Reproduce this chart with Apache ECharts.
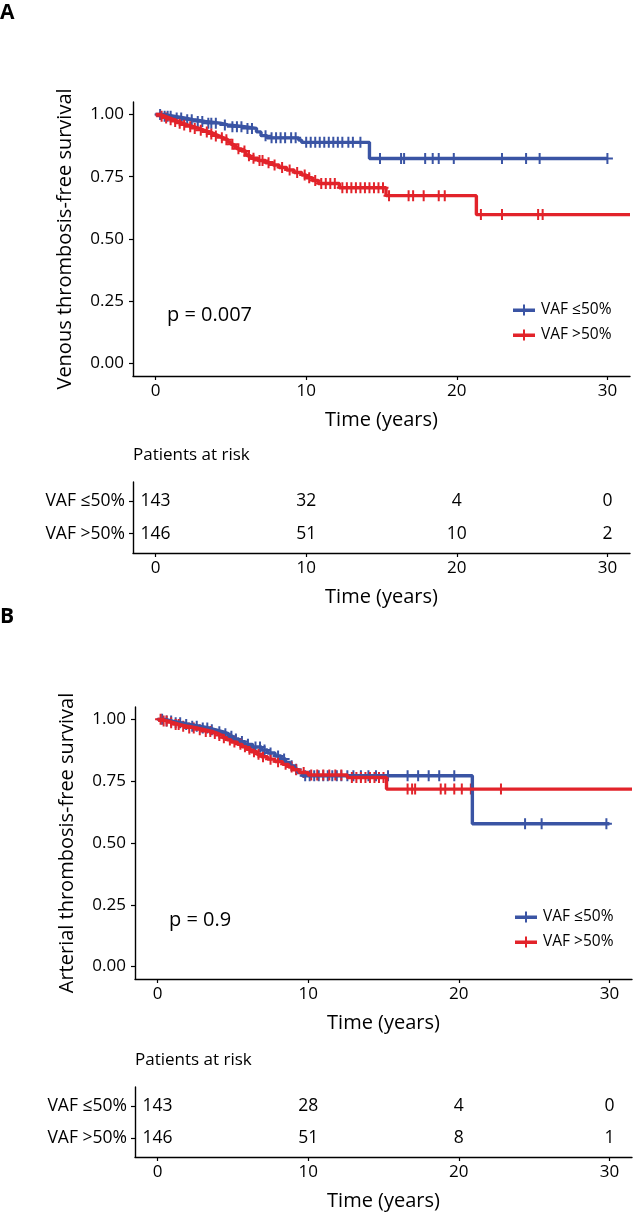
<!DOCTYPE html>
<html>
<head>
<meta charset="utf-8">
<script src="https://cdn.jsdelivr.net/npm/echarts@6/dist/echarts.min.js"></script>
<style>
html,body{margin:0;padding:0;background:#fff;}
#chart{width:633px;height:1212px;}
</style>
</head>
<body>
<div id="chart"></div>
<script>
// ---------- DATA ----------
const groups = ['VAF ≤50%', 'VAF >50%'];
const xTicks = [0, 10, 20, 30];
const yTicks = [0, 0.25, 0.5, 0.75, 1];

// Panel A: venous thrombosis (step points: time, survival)
const aBlueT = [0, 0.5, 1.2, 1.9, 2.5, 3.3, 4.3, 4.8, 5.9, 6.7, 7.0, 7.4, 9.5, 9.7, 14.2, 30.0];
const aBlueS = [1.0, 0.993, 0.986, 0.979, 0.972, 0.965, 0.958, 0.951, 0.944, 0.930, 0.915, 0.906, 0.897, 0.888, 0.823, 0.823];
const aRedT = [0, 0.3, 0.6, 0.9, 1.2, 1.5, 1.8, 2.1, 2.5, 2.9, 3.2, 3.6, 3.9, 4.2, 4.5, 4.8, 5.0, 5.2, 5.4, 5.7, 6.0, 6.1, 6.3, 6.8, 7.3, 7.8, 8.2, 8.7, 9.2, 9.7, 10.0, 10.4, 10.8, 12.2, 15.3, 21.3, 31.5];
const aRedS = [1.0, 0.993, 0.986, 0.979, 0.972, 0.965, 0.958, 0.951, 0.944, 0.937, 0.930, 0.922, 0.914, 0.906, 0.898, 0.889, 0.880, 0.871, 0.862, 0.853, 0.844, 0.834, 0.824, 0.815, 0.806, 0.797, 0.787, 0.777, 0.767, 0.757, 0.746, 0.735, 0.723, 0.706, 0.674, 0.598, 0.598];
const aBlueCens = [0.3, 0.6, 0.8, 1.0, 1.4, 1.7, 2.1, 2.4, 2.8, 3.1, 3.5, 3.7, 4.0, 4.6, 5.1, 5.4, 5.7, 6.1, 6.4, 7.3, 7.7, 8.0, 8.3, 8.6, 9.0, 9.3, 10.0, 10.3, 10.6, 10.9, 11.2, 11.5, 11.8, 12.1, 12.4, 12.8, 13.1, 13.6, 14.9, 16.3, 16.5, 17.9, 18.4, 18.8, 19.8, 23.0, 24.6, 25.5, 30.0];
const aRedCens = [0.4, 0.7, 1.0, 1.3, 1.6, 1.9, 2.3, 2.6, 3.0, 3.4, 3.7, 4.0, 4.4, 4.7, 5.1, 5.5, 5.9, 6.2, 6.5, 6.9, 7.1, 7.5, 7.9, 8.4, 8.9, 9.4, 9.9, 10.2, 10.6, 11.0, 11.3, 11.6, 11.9, 12.4, 12.7, 13.0, 13.3, 13.6, 13.9, 14.2, 14.5, 14.8, 15.1, 15.5, 16.8, 17.1, 17.8, 18.8, 19.2, 21.6, 23.0, 25.4, 25.7];
const aRiskBlue = [143, 32, 4, 0];
const aRiskRed = [146, 51, 10, 2];

// Panel B: arterial thrombosis
const bBlueT = [0, 0.5, 1.0, 1.6, 2.2, 2.8, 3.4, 3.8, 4.3, 4.7, 5.0, 5.4, 5.8, 6.3, 6.9, 7.3, 7.8, 8.2, 8.5, 8.8, 9.1, 9.3, 9.6, 20.9, 30.0];
const bBlueS = [1.0, 0.993, 0.986, 0.979, 0.972, 0.965, 0.958, 0.950, 0.942, 0.932, 0.921, 0.910, 0.899, 0.888, 0.876, 0.864, 0.852, 0.840, 0.826, 0.812, 0.798, 0.785, 0.772, 0.578, 0.578];
const bRedT = [0, 0.3, 0.7, 1.1, 1.5, 2.0, 2.6, 3.1, 3.6, 4.0, 4.3, 4.6, 4.9, 5.3, 5.6, 5.9, 6.2, 6.6, 6.9, 7.3, 7.8, 8.3, 8.7, 9.0, 9.4, 10.0, 12.6, 15.2, 31.5];
const bRedS = [1.0, 0.993, 0.986, 0.979, 0.972, 0.965, 0.958, 0.951, 0.943, 0.935, 0.926, 0.917, 0.908, 0.899, 0.889, 0.879, 0.869, 0.859, 0.849, 0.839, 0.829, 0.818, 0.807, 0.796, 0.785, 0.775, 0.765, 0.718, 0.718];
const bBlueCens = [0.3, 0.6, 0.9, 1.2, 1.5, 1.9, 2.3, 2.6, 3.0, 3.3, 3.6, 4.1, 4.5, 4.9, 5.2, 5.6, 6.0, 6.5, 6.8, 7.1, 7.5, 8.0, 8.4, 8.9, 9.2, 9.8, 10.1, 10.4, 10.7, 11.0, 11.3, 11.6, 11.9, 12.2, 12.6, 13.0, 13.5, 14.0, 14.5, 15.3, 16.6, 17.3, 18.0, 18.7, 19.7, 24.4, 25.5, 29.8];
const bRedCens = [0.2, 0.4, 0.6, 0.9, 1.2, 1.4, 1.7, 2.1, 2.4, 2.8, 3.2, 3.5, 3.8, 4.1, 4.4, 4.8, 5.1, 5.5, 5.8, 6.1, 6.4, 6.7, 7.0, 7.5, 8.0, 8.5, 8.9, 9.2, 9.7, 10.2, 10.6, 11.0, 11.4, 11.8, 12.2, 12.9, 13.2, 13.5, 13.8, 14.1, 14.4, 14.7, 15.0, 16.6, 16.9, 17.1, 18.8, 19.1, 19.7, 20.2, 20.8, 22.8];
const bRiskBlue = [143, 28, 4, 0];
const bRiskRed = [146, 51, 8, 1];

// ---------- STYLE ----------
const BLUE = '#3a54a4';
const RED = '#e2232a';
const FONT = 'Open Sans';
const CROSS = 'path://M4.5,0H6.5V4.5H11V6.5H6.5V11H4.5V6.5H0V4.5H4.5Z';
const KEY = 'path://M0,4H22V7.5H0Z M10,0H12V11H10Z';

function pairs(T, S) { return T.map((t, i) => [t, S[i]]); }
function survAt(T, S, t) { let v = S[0]; for (let i = 0; i < T.length; i++) { if (T[i] <= t) v = S[i]; } return v; }
function cens(C, T, S) { return C.map(t => [t, survAt(T, S, t)]); }

const grids = [
  { left: 133, top: 102, width: 497, height: 274 },
  { left: 133, top: 482, width: 497, height: 71 },
  { left: 135, top: 707, width: 497, height: 272 },
  { left: 135, top: 1087, width: 497, height: 70 }
];

const axisLineStyle = { onZero: false, lineStyle: { color: '#000', width: 1.4 } };
function xAxis(gi) {
  return {
    type: 'value', gridIndex: gi, min: -1.5, max: 31.5,
    axisLine: { show: true, ...axisLineStyle },
    axisTick: { show: true, length: 4, lineStyle: { color: '#000', width: 1.2 }, customValues: xTicks },
    axisLabel: { color: '#000', fontFamily: FONT, fontSize: 17, margin: 7, customValues: xTicks },
    splitLine: { show: false },
    name: 'Time (years)', nameLocation: 'middle', nameGap: 34,
    nameTextStyle: { color: '#000', fontFamily: FONT, fontSize: 20 }
  };
}
function yAxisPlot(gi, title) {
  return {
    type: 'value', gridIndex: gi, min: -0.05, max: 1.05,
    axisLine: { show: true, ...axisLineStyle },
    axisTick: { show: true, length: 4, lineStyle: { color: '#000', width: 1.2 }, customValues: yTicks },
    axisLabel: { color: '#000', fontFamily: FONT, fontSize: 17, margin: 9, customValues: yTicks, formatter: v => v.toFixed(2) },
    splitLine: { show: false },
    name: title, nameLocation: 'middle', nameGap: 58,
    nameTextStyle: { color: '#000', fontFamily: FONT, fontSize: 20 }
  };
}
function yAxisTable(gi) {
  return {
    type: 'value', gridIndex: gi, min: 0.4, max: 2.6,
    axisLine: { show: true, ...axisLineStyle },
    axisTick: { show: true, length: 4, lineStyle: { color: '#000', width: 1.2 }, customValues: [1, 2] },
    axisLabel: { color: '#000', fontFamily: FONT, fontSize: 17.5, margin: 8, customValues: [1, 2], formatter: v => (v === 2 ? groups[0] : groups[1]) },
    splitLine: { show: false }
  };
}

function lineSeries(name, data, color, gi) {
  return { name, type: 'line', xAxisIndex: gi, yAxisIndex: gi, data, step: 'end', showSymbol: false, symbol: 'none',
    lineStyle: { color, width: 3.4 }, itemStyle: { color }, animation: false, silent: true };
}
function censSeries(name, data, color, gi) {
  return { name, type: 'scatter', xAxisIndex: gi, yAxisIndex: gi, data, symbol: CROSS, symbolSize: [11, 11],
    itemStyle: { color, opacity: 1 }, animation: false, silent: true };
}
function tableSeries(gi, vals, row) {
  return { type: 'scatter', xAxisIndex: gi, yAxisIndex: gi, symbolSize: 0,
    data: xTicks.map((t, i) => [t, row, vals[i]]),
    itemStyle: { opacity: 1 },
    label: { show: true, position: 'inside', formatter: p => String(p.data[2]), color: '#000', textBorderWidth: 0, fontFamily: FONT, fontSize: 17.5 },
    animation: false, silent: true };
}

function legend(left, top) {
  return {
    orient: 'vertical', left, top, itemWidth: 22, itemHeight: 11, itemGap: 9, selectedMode: false,
    data: [{ name: groups[0], icon: KEY, itemStyle: { color: BLUE } }, { name: groups[1], icon: KEY, itemStyle: { color: RED } }],
    textStyle: { color: '#000', fontFamily: FONT, fontSize: 15.5, lineHeight: 15, padding: [0, 0, 0, 1] }
  };
}

const txt = (x, y, text, size, weight, align) => ({ type: 'text', x, y,
  style: { text, fill: '#000', font: (weight || 'normal') + ' ' + size + 'px "' + FONT + '"', textAlign: align || 'left', textVerticalAlign: 'middle' } });

const option = {
  backgroundColor: '#fff',
  animation: false,
  grid: grids,
  xAxis: [xAxis(0), xAxis(1), xAxis(2), xAxis(3)],
  yAxis: [yAxisPlot(0, 'Venous thrombosis-free survival'), yAxisTable(1), yAxisPlot(2, 'Arterial thrombosis-free survival'), yAxisTable(3)],
  legend: [legend(508, 297), legend(510, 904)],
  series: [
    lineSeries(groups[0], pairs(aBlueT, aBlueS), BLUE, 0),
    censSeries(groups[0], cens(aBlueCens, aBlueT, aBlueS), BLUE, 0),
    lineSeries(groups[1], pairs(aRedT, aRedS), RED, 0),
    censSeries(groups[1], cens(aRedCens, aRedT, aRedS), RED, 0),
    tableSeries(1, aRiskBlue, 2),
    tableSeries(1, aRiskRed, 1),
    lineSeries(groups[0], pairs(bBlueT, bBlueS), BLUE, 2),
    censSeries(groups[0], cens(bBlueCens, bBlueT, bBlueS), BLUE, 2),
    lineSeries(groups[1], pairs(bRedT, bRedS), RED, 2),
    censSeries(groups[1], cens(bRedCens, bRedT, bRedS), RED, 2),
    tableSeries(3, bRiskBlue, 2),
    tableSeries(3, bRiskRed, 1)
  ],
  graphic: [
    txt(0, 13, 'A', 21, 'bold'),
    txt(0, 617, 'B', 21, 'bold'),
    txt(167, 315, 'p = 0.007', 20),
    txt(169, 920, 'p = 0.9', 20),
    txt(133, 455, 'Patients at risk', 17),
    txt(135, 1060, 'Patients at risk', 17)
  ]
};

const chart = echarts.init(document.getElementById('chart'), null, { renderer: 'canvas' });
chart.setOption(option);
</script>
</body>
</html>
